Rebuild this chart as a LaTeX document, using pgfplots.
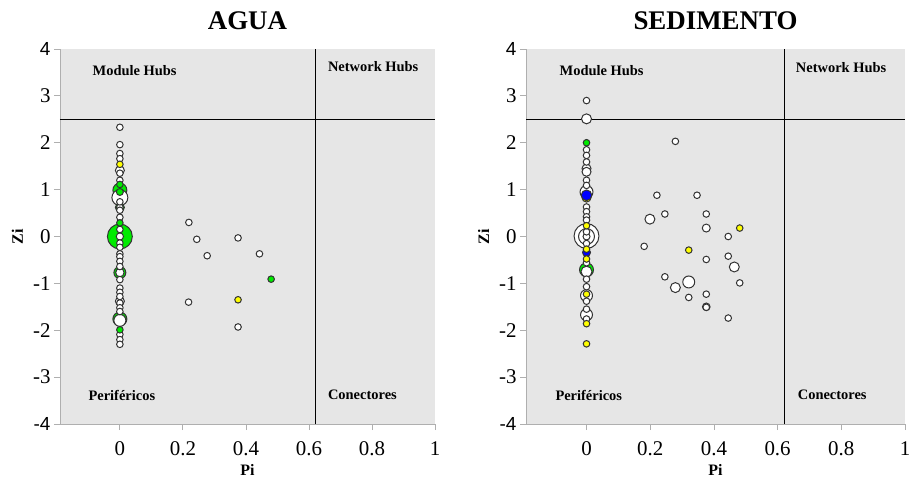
\documentclass[border=0pt]{standalone}
\usepackage{pgfplots}
\pgfplotsset{compat=1.18}
\usepackage{pgfplotstable}
\usepackage{fontspec}
\setmainfont{Liberation Serif}
\newfontfamily\sansf{Liberation Sans}
\definecolor{bgc}{RGB}{230,230,230}
\definecolor{axc}{RGB}{175,175,175}
\pgfplotsset{colormap={quad}{rgb255(0)=(255,255,255) rgb255(1)=(0,235,0) rgb255(2)=(255,255,0) rgb255(3)=(0,0,255)}}

% c: 0 white, 1 green, 2 yellow, 3 blue ; r: marker radius
\pgfplotstableread{
x y r c
0 0 12.5 1
0 0.99 7 1
0 0.83 8 0
0 -1.76 7 1
0 -1.79 6 0
0 -0.77 6 1
0 -0.77 4.2 0
0 0.62 4.5 1
0 0.62 3.4 0
0 1.41 4.5 0
0 -1.38 4.5 0
0 0 3.6 0
0 0.95 3.5 1
0 2.33 3.3 0
0 1.96 3.3 0
0 1.77 3.3 0
0 1.66 3.3 0
0 1.35 3.3 0
0 1.20 3.3 0
0 0.74 3.3 0
0 0.56 3.3 0
0 0.41 3.3 0
0 0.15 3.3 0
0 -0.14 3.3 0
0 -0.23 3.3 0
0 -0.37 3.3 0
0 -0.43 3.3 0
0 -0.53 3.3 0
0 -0.64 3.3 0
0 -0.92 3.3 0
0 -1.10 3.3 0
0 -1.19 3.3 0
0 -1.28 3.3 0
0 -1.42 3.3 0
0 -1.52 3.3 0
0 -1.60 3.3 0
0 -2.09 3.3 0
0 -2.20 3.3 0
0 -2.30 3.3 0
0 1.11 3.3 1
0 0.29 3.3 1
0 -1.99 3.3 1
0 1.54 3.3 2
0.219 0.30 3.3 0
0.244 -0.06 3.3 0
0.277 -0.41 3.3 0
0.375 -0.03 3.3 0
0.443 -0.37 3.3 0
0.218 -1.40 3.3 0
0.375 -1.93 3.3 0
0.480 -0.91 3.3 1
0.375 -1.35 3.3 2
}\agua

\pgfplotstableread{
x y r c
0 0.01 12.5 0
0 0 8 0
0 -0.71 7 1
0 0.95 6.5 0
0 -1.26 6 0
0 -1.67 6 0
0 -0.75 5.5 0
0 2.51 5 0
0 0.83 4.5 2
0 0.88 5.3 3
0 1.45 4.5 0
0 1.38 4.5 0
0 -0.34 4 3
0 0 3.5 0
0.321 -0.97 6 0
0.199 0.37 5 0
0.464 -0.65 5 0
0.279 -1.09 5 0
0.376 0.18 4 0
0.376 -1.50 3.8 0
0 2.90 3.3 0
0 1.85 3.3 0
0 1.73 3.3 0
0 1.59 3.3 0
0 1.20 3.3 0
0 1.09 3.3 0
0 0.63 3.3 0
0 0.53 3.3 0
0 0.42 3.3 0
0 0.35 3.3 0
0 0.10 3.3 0
0 -0.15 3.3 0
0 -0.56 3.3 0
0 -0.91 3.3 0
0 -1.07 3.3 0
0 -1.38 3.3 0
0 -1.55 3.3 0
0 -1.76 3.3 0
0 2.00 3.3 1
0 0.23 3.3 2
0 -0.27 3.3 2
0 -0.48 3.3 2
0 -1.23 3.3 2
0 -1.86 3.3 2
0 -2.29 3.3 2
0.279 2.03 3.3 0
0.221 0.88 3.3 0
0.347 0.88 3.3 0
0.246 0.48 3.3 0
0.376 0.48 3.3 0
0.445 0.00 3.3 0
0.181 -0.21 3.3 0
0.376 -0.49 3.3 0
0.445 -0.42 3.3 0
0.246 -0.86 3.3 0
0.481 -0.99 3.3 0
0.321 -1.30 3.3 0
0.376 -1.23 3.3 0
0.376 -1.51 3.3 0
0.445 -1.74 3.3 0
0.481 0.18 3.3 2
0.321 -0.29 3.3 2
}\sedimento

\pgfplotsset{quadstyle/.style={
  scale only axis, height=375bp,
  xmin=-0.19, xmax=1, ymin=-4, ymax=4,
  axis lines=left, axis line style={-, draw=axc, line width=0.8bp},
  axis background/.style={fill=bgc},
  tick align=outside, major tick length=6bp,
  tick style={draw=axc, line width=0.8bp},
  xtick={0,0.2,0.4,0.6,0.8,1}, xticklabels={0,0.2,0.4,0.6,0.8,1},
  ytick={-4,-3,-2,-1,0,1,2,3,4},
  yticklabels={{\sansf\fontsize{19}{19}\selectfont -4},-3,-2,-1,0,1,2,3,{\sansf\fontsize{19}{19}\selectfont 4}},
  ticklabel style={font=\fontsize{21}{21}\selectfont},
  xticklabel style={yshift=-8bp},
  xlabel={Pi}, ylabel={Zi},
  xlabel style={font=\bfseries\fontsize{16}{16}\selectfont, at={(axis description cs:0.5,-0.136)}, anchor=base, inner sep=0pt},
  title style={font=\bfseries\fontsize{27}{27}\selectfont, at={(axis description cs:0.5,1.036)}, anchor=base, inner sep=0pt},
  colormap name=quad, point meta min=0, point meta max=3,
  clip=false,
}}
\pgfplotsset{dots/.style={scatter, only marks, mark=*, point meta=\thisrow{c},
  scatter/use mapped color={draw=black!80, fill=mapped color, line width=1bp},
  visualization depends on={\thisrow{r}\as\rad},
  scatter/@pre marker code/.append style={/tikz/mark size=\rad}}}
\tikzset{ql/.style={anchor=west, inner sep=0pt, font=\bfseries\fontsize{14.5}{14.5}\selectfont}}

\begin{document}
\begin{tikzpicture}
\useasboundingbox (-60bp,-59bp) rectangle (852bp,424bp);
\begin{axis}[quadstyle, width=375bp, title={AGUA},
  ylabel style={font=\bfseries\fontsize{16}{16}\selectfont, at={(axis description cs:-0.0987,0.5)}, anchor=base, inner sep=0pt}]
\addplot[black, line width=0.8bp, forget plot] coordinates {(0.62,-4) (0.62,4)};
\addplot[black, line width=0.8bp, forget plot] coordinates {(-0.19,2.5) (1,2.5)};
\addplot[dots] table[x=x,y=y] {\agua};
\node[ql] at (axis cs:-0.087,3.53) {Module Hubs};
\node[ql] at (axis cs:0.66,3.62) {Network Hubs};
\node[ql] at (axis cs:-0.10,-3.39) {Periféricos};
\node[ql] at (axis cs:0.66,-3.37) {Conectores};
\end{axis}
\begin{axis}[quadstyle, width=379bp, at={(466bp,0)}, title={SEDIMENTO},
  ylabel style={font=\bfseries\fontsize{16}{16}\selectfont, at={(axis description cs:-0.0976,0.5)}, anchor=base, inner sep=0pt}]
\addplot[black, line width=0.8bp, forget plot] coordinates {(0.62,-4) (0.62,4)};
\addplot[black, line width=0.8bp, forget plot] coordinates {(-0.19,2.5) (1,2.5)};
\addplot[dots] table[x=x,y=y] {\sedimento};
\node[ql] at (axis cs:-0.085,3.55) {Module Hubs};
\node[ql] at (axis cs:0.657,3.60) {Network Hubs};
\node[ql] at (axis cs:-0.098,-3.39) {Periféricos};
\node[ql] at (axis cs:0.663,-3.37) {Conectores};
\end{axis}
\end{tikzpicture}
\end{document}
